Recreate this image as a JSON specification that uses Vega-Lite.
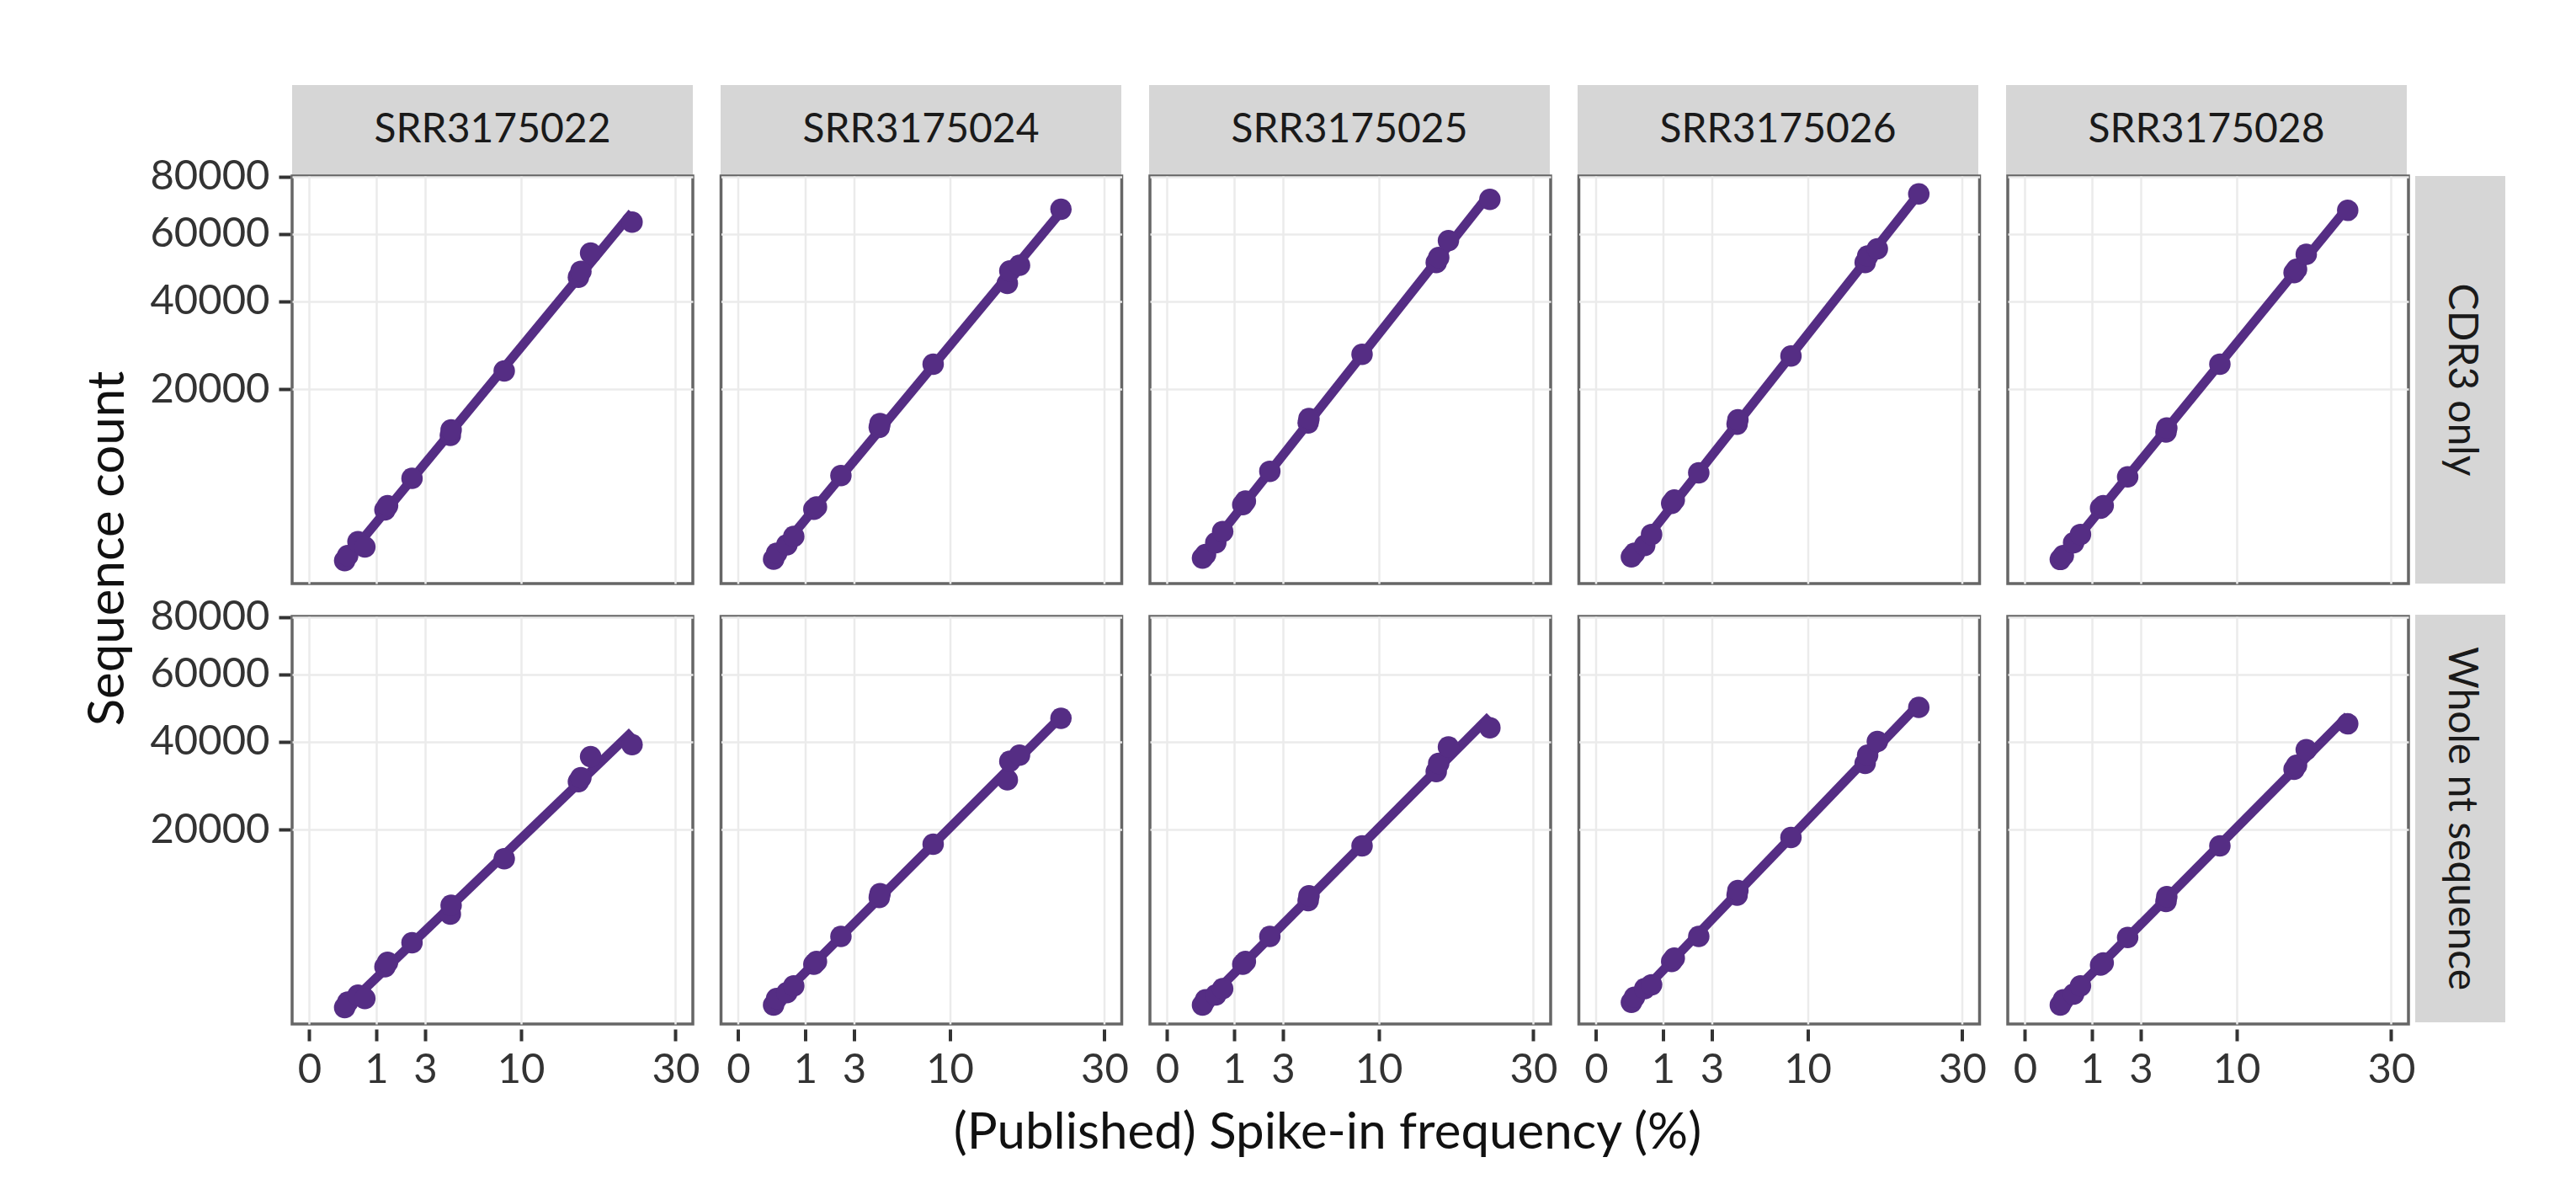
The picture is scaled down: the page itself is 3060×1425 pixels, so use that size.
{
  "$schema": "https://vega.github.io/schema/vega-lite/v6.json",
  "background": "white",
  "padding": {"left": 98, "top": 101, "right": 10, "bottom": 10},
  "title": {"text": "Sequence count", "orient": "left", "anchor": "middle", "frame": "bounds", "offset": 18, "dx": 87,
            "font": "Lato", "fontSize": 60, "fontWeight": "normal", "color": "#111111"},
  "config": {
    "font": "Lato",
    "view": {"stroke": "#666666", "strokeWidth": 3.5},
    "axis": {
      "gridColor": "#ebebeb", "gridWidth": 2.5, "domain": false,
      "tickColor": "#333333", "tickWidth": 4, "tickSize": 14,
      "labelFont": "Lato", "labelFontSize": 49, "labelColor": "#333333", "labelPadding": 11, "labelFlush": false
    },
    "axisX": {"labelPadding": 10}
  },
  "datasets": {
    "cols": [{"sample": "SRR3175022"}, {"sample": "SRR3175024"}, {"sample": "SRR3175025"}, {"sample": "SRR3175026"}, {"sample": "SRR3175028"}],
    "rows": [{"type": "CDR3 only"}, {"type": "Whole nt sequence"}],
    "pts": [
      {"sample":"SRR3175022","type":"CDR3 only","kind":"obs","freq":0.28,"count":754},
      {"sample":"SRR3175022","type":"CDR3 only","kind":"obs","freq":0.33,"count":953},
      {"sample":"SRR3175022","type":"CDR3 only","kind":"obs","freq":0.53,"count":1605},
      {"sample":"SRR3175022","type":"CDR3 only","kind":"obs","freq":0.69,"count":1338},
      {"sample":"SRR3175022","type":"CDR3 only","kind":"obs","freq":1.28,"count":3756},
      {"sample":"SRR3175022","type":"CDR3 only","kind":"obs","freq":1.37,"count":4100},
      {"sample":"SRR3175022","type":"CDR3 only","kind":"obs","freq":2.36,"count":6773},
      {"sample":"SRR3175022","type":"CDR3 only","kind":"obs","freq":4.45,"count":12300},
      {"sample":"SRR3175022","type":"CDR3 only","kind":"obs","freq":4.5,"count":13100},
      {"sample":"SRR3175022","type":"CDR3 only","kind":"obs","freq":8.5,"count":23614},
      {"sample":"SRR3175022","type":"CDR3 only","kind":"obs","freq":16.2,"count":46690},
      {"sample":"SRR3175022","type":"CDR3 only","kind":"obs","freq":16.5,"count":48400},
      {"sample":"SRR3175022","type":"CDR3 only","kind":"obs","freq":17.7,"count":53870},
      {"sample":"SRR3175022","type":"CDR3 only","kind":"obs","freq":23.3,"count":63837},
      {"sample":"SRR3175022","type":"Whole nt sequence","kind":"obs","freq":0.28,"count":540},
      {"sample":"SRR3175022","type":"Whole nt sequence","kind":"obs","freq":0.33,"count":720},
      {"sample":"SRR3175022","type":"Whole nt sequence","kind":"obs","freq":0.53,"count":987},
      {"sample":"SRR3175022","type":"Whole nt sequence","kind":"obs","freq":0.69,"count":850},
      {"sample":"SRR3175022","type":"Whole nt sequence","kind":"obs","freq":1.28,"count":2536},
      {"sample":"SRR3175022","type":"Whole nt sequence","kind":"obs","freq":1.37,"count":2842},
      {"sample":"SRR3175022","type":"Whole nt sequence","kind":"obs","freq":2.36,"count":4402},
      {"sample":"SRR3175022","type":"Whole nt sequence","kind":"obs","freq":4.45,"count":7285},
      {"sample":"SRR3175022","type":"Whole nt sequence","kind":"obs","freq":4.5,"count":8333},
      {"sample":"SRR3175022","type":"Whole nt sequence","kind":"obs","freq":8.5,"count":14945},
      {"sample":"SRR3175022","type":"Whole nt sequence","kind":"obs","freq":16.2,"count":30100},
      {"sample":"SRR3175022","type":"Whole nt sequence","kind":"obs","freq":16.5,"count":31000},
      {"sample":"SRR3175022","type":"Whole nt sequence","kind":"obs","freq":17.7,"count":36140},
      {"sample":"SRR3175022","type":"Whole nt sequence","kind":"obs","freq":23.3,"count":39220},
      {"sample":"SRR3175024","type":"CDR3 only","kind":"obs","freq":0.28,"count":812},
      {"sample":"SRR3175024","type":"CDR3 only","kind":"obs","freq":0.33,"count":1050},
      {"sample":"SRR3175024","type":"CDR3 only","kind":"obs","freq":0.53,"count":1450},
      {"sample":"SRR3175024","type":"CDR3 only","kind":"obs","freq":0.69,"count":1900},
      {"sample":"SRR3175024","type":"CDR3 only","kind":"obs","freq":1.28,"count":3800},
      {"sample":"SRR3175024","type":"CDR3 only","kind":"obs","freq":1.37,"count":4000},
      {"sample":"SRR3175024","type":"CDR3 only","kind":"obs","freq":2.36,"count":7061},
      {"sample":"SRR3175024","type":"CDR3 only","kind":"obs","freq":4.45,"count":13500},
      {"sample":"SRR3175024","type":"CDR3 only","kind":"obs","freq":4.5,"count":14100},
      {"sample":"SRR3175024","type":"CDR3 only","kind":"obs","freq":8.5,"count":25030},
      {"sample":"SRR3175024","type":"CDR3 only","kind":"obs","freq":16.2,"count":44900},
      {"sample":"SRR3175024","type":"CDR3 only","kind":"obs","freq":16.5,"count":48500},
      {"sample":"SRR3175024","type":"CDR3 only","kind":"obs","freq":17.7,"count":50200},
      {"sample":"SRR3175024","type":"CDR3 only","kind":"obs","freq":23.3,"count":68240},
      {"sample":"SRR3175024","type":"Whole nt sequence","kind":"obs","freq":0.28,"count":617},
      {"sample":"SRR3175024","type":"Whole nt sequence","kind":"obs","freq":0.33,"count":850},
      {"sample":"SRR3175024","type":"Whole nt sequence","kind":"obs","freq":0.53,"count":1100},
      {"sample":"SRR3175024","type":"Whole nt sequence","kind":"obs","freq":0.69,"count":1416},
      {"sample":"SRR3175024","type":"Whole nt sequence","kind":"obs","freq":1.28,"count":2700},
      {"sample":"SRR3175024","type":"Whole nt sequence","kind":"obs","freq":1.37,"count":2900},
      {"sample":"SRR3175024","type":"Whole nt sequence","kind":"obs","freq":2.36,"count":4972},
      {"sample":"SRR3175024","type":"Whole nt sequence","kind":"obs","freq":4.45,"count":9300},
      {"sample":"SRR3175024","type":"Whole nt sequence","kind":"obs","freq":4.5,"count":9800},
      {"sample":"SRR3175024","type":"Whole nt sequence","kind":"obs","freq":8.5,"count":17395},
      {"sample":"SRR3175024","type":"Whole nt sequence","kind":"obs","freq":16.2,"count":30500},
      {"sample":"SRR3175024","type":"Whole nt sequence","kind":"obs","freq":16.5,"count":35000},
      {"sample":"SRR3175024","type":"Whole nt sequence","kind":"obs","freq":17.7,"count":36500},
      {"sample":"SRR3175024","type":"Whole nt sequence","kind":"obs","freq":23.3,"count":46470},
      {"sample":"SRR3175025","type":"CDR3 only","kind":"obs","freq":0.28,"count":850},
      {"sample":"SRR3175025","type":"CDR3 only","kind":"obs","freq":0.33,"count":1000},
      {"sample":"SRR3175025","type":"CDR3 only","kind":"obs","freq":0.53,"count":1557},
      {"sample":"SRR3175025","type":"CDR3 only","kind":"obs","freq":0.69,"count":2200},
      {"sample":"SRR3175025","type":"CDR3 only","kind":"obs","freq":1.28,"count":4200},
      {"sample":"SRR3175025","type":"CDR3 only","kind":"obs","freq":1.37,"count":4500},
      {"sample":"SRR3175025","type":"CDR3 only","kind":"obs","freq":2.36,"count":7562},
      {"sample":"SRR3175025","type":"CDR3 only","kind":"obs","freq":4.45,"count":14200},
      {"sample":"SRR3175025","type":"CDR3 only","kind":"obs","freq":4.5,"count":14900},
      {"sample":"SRR3175025","type":"CDR3 only","kind":"obs","freq":8.5,"count":27150},
      {"sample":"SRR3175025","type":"CDR3 only","kind":"obs","freq":16.2,"count":51000},
      {"sample":"SRR3175025","type":"CDR3 only","kind":"obs","freq":16.5,"count":52500},
      {"sample":"SRR3175025","type":"CDR3 only","kind":"obs","freq":17.7,"count":57800},
      {"sample":"SRR3175025","type":"CDR3 only","kind":"obs","freq":23.3,"count":71720},
      {"sample":"SRR3175025","type":"Whole nt sequence","kind":"obs","freq":0.28,"count":617},
      {"sample":"SRR3175025","type":"Whole nt sequence","kind":"obs","freq":0.33,"count":800},
      {"sample":"SRR3175025","type":"Whole nt sequence","kind":"obs","freq":0.53,"count":1000},
      {"sample":"SRR3175025","type":"Whole nt sequence","kind":"obs","freq":0.69,"count":1282},
      {"sample":"SRR3175025","type":"Whole nt sequence","kind":"obs","freq":1.28,"count":2700},
      {"sample":"SRR3175025","type":"Whole nt sequence","kind":"obs","freq":1.37,"count":2900},
      {"sample":"SRR3175025","type":"Whole nt sequence","kind":"obs","freq":2.36,"count":4972},
      {"sample":"SRR3175025","type":"Whole nt sequence","kind":"obs","freq":4.45,"count":8900},
      {"sample":"SRR3175025","type":"Whole nt sequence","kind":"obs","freq":4.5,"count":9500},
      {"sample":"SRR3175025","type":"Whole nt sequence","kind":"obs","freq":8.5,"count":17105},
      {"sample":"SRR3175025","type":"Whole nt sequence","kind":"obs","freq":16.2,"count":32440},
      {"sample":"SRR3175025","type":"Whole nt sequence","kind":"obs","freq":16.5,"count":34450},
      {"sample":"SRR3175025","type":"Whole nt sequence","kind":"obs","freq":17.7,"count":38640},
      {"sample":"SRR3175025","type":"Whole nt sequence","kind":"obs","freq":23.3,"count":43830},
      {"sample":"SRR3175026","type":"CDR3 only","kind":"obs","freq":0.28,"count":900},
      {"sample":"SRR3175026","type":"CDR3 only","kind":"obs","freq":0.33,"count":1050},
      {"sample":"SRR3175026","type":"CDR3 only","kind":"obs","freq":0.53,"count":1416},
      {"sample":"SRR3175026","type":"CDR3 only","kind":"obs","freq":0.69,"count":2020},
      {"sample":"SRR3175026","type":"CDR3 only","kind":"obs","freq":1.28,"count":4300},
      {"sample":"SRR3175026","type":"CDR3 only","kind":"obs","freq":1.37,"count":4600},
      {"sample":"SRR3175026","type":"CDR3 only","kind":"obs","freq":2.36,"count":7372},
      {"sample":"SRR3175026","type":"CDR3 only","kind":"obs","freq":4.45,"count":14000},
      {"sample":"SRR3175026","type":"CDR3 only","kind":"obs","freq":4.5,"count":14700},
      {"sample":"SRR3175026","type":"CDR3 only","kind":"obs","freq":8.5,"count":26790},
      {"sample":"SRR3175026","type":"CDR3 only","kind":"obs","freq":16.2,"count":50980},
      {"sample":"SRR3175026","type":"CDR3 only","kind":"obs","freq":16.5,"count":52990},
      {"sample":"SRR3175026","type":"CDR3 only","kind":"obs","freq":17.7,"count":55190},
      {"sample":"SRR3175026","type":"CDR3 only","kind":"obs","freq":23.3,"count":73690},
      {"sample":"SRR3175026","type":"Whole nt sequence","kind":"obs","freq":0.28,"count":711},
      {"sample":"SRR3175026","type":"Whole nt sequence","kind":"obs","freq":0.33,"count":900},
      {"sample":"SRR3175026","type":"Whole nt sequence","kind":"obs","freq":0.53,"count":1282},
      {"sample":"SRR3175026","type":"Whole nt sequence","kind":"obs","freq":0.69,"count":1472},
      {"sample":"SRR3175026","type":"Whole nt sequence","kind":"obs","freq":1.28,"count":2900},
      {"sample":"SRR3175026","type":"Whole nt sequence","kind":"obs","freq":1.37,"count":3150},
      {"sample":"SRR3175026","type":"Whole nt sequence","kind":"obs","freq":2.36,"count":4972},
      {"sample":"SRR3175026","type":"Whole nt sequence","kind":"obs","freq":4.45,"count":9600},
      {"sample":"SRR3175026","type":"Whole nt sequence","kind":"obs","freq":4.5,"count":10200},
      {"sample":"SRR3175026","type":"Whole nt sequence","kind":"obs","freq":8.5,"count":18572},
      {"sample":"SRR3175026","type":"Whole nt sequence","kind":"obs","freq":16.2,"count":34450},
      {"sample":"SRR3175026","type":"Whole nt sequence","kind":"obs","freq":16.5,"count":36510},
      {"sample":"SRR3175026","type":"Whole nt sequence","kind":"obs","freq":17.7,"count":40090},
      {"sample":"SRR3175026","type":"Whole nt sequence","kind":"obs","freq":23.3,"count":49670},
      {"sample":"SRR3175028","type":"CDR3 only","kind":"obs","freq":0.28,"count":800},
      {"sample":"SRR3175028","type":"CDR3 only","kind":"obs","freq":0.33,"count":950},
      {"sample":"SRR3175028","type":"CDR3 only","kind":"obs","freq":0.53,"count":1557},
      {"sample":"SRR3175028","type":"CDR3 only","kind":"obs","freq":0.69,"count":2020},
      {"sample":"SRR3175028","type":"CDR3 only","kind":"obs","freq":1.28,"count":3900},
      {"sample":"SRR3175028","type":"CDR3 only","kind":"obs","freq":1.37,"count":4100},
      {"sample":"SRR3175028","type":"CDR3 only","kind":"obs","freq":2.36,"count":6939},
      {"sample":"SRR3175028","type":"CDR3 only","kind":"obs","freq":4.45,"count":12800},
      {"sample":"SRR3175028","type":"CDR3 only","kind":"obs","freq":4.5,"count":13400},
      {"sample":"SRR3175028","type":"CDR3 only","kind":"obs","freq":8.5,"count":25030},
      {"sample":"SRR3175028","type":"CDR3 only","kind":"obs","freq":16.2,"count":48000},
      {"sample":"SRR3175028","type":"CDR3 only","kind":"obs","freq":16.5,"count":49000},
      {"sample":"SRR3175028","type":"CDR3 only","kind":"obs","freq":17.7,"count":53490},
      {"sample":"SRR3175028","type":"CDR3 only","kind":"obs","freq":23.3,"count":67860},
      {"sample":"SRR3175028","type":"Whole nt sequence","kind":"obs","freq":0.28,"count":617},
      {"sample":"SRR3175028","type":"Whole nt sequence","kind":"obs","freq":0.33,"count":800},
      {"sample":"SRR3175028","type":"Whole nt sequence","kind":"obs","freq":0.53,"count":1034},
      {"sample":"SRR3175028","type":"Whole nt sequence","kind":"obs","freq":0.69,"count":1416},
      {"sample":"SRR3175028","type":"Whole nt sequence","kind":"obs","freq":1.28,"count":2650},
      {"sample":"SRR3175028","type":"Whole nt sequence","kind":"obs","freq":1.37,"count":2800},
      {"sample":"SRR3175028","type":"Whole nt sequence","kind":"obs","freq":2.36,"count":4870},
      {"sample":"SRR3175028","type":"Whole nt sequence","kind":"obs","freq":4.45,"count":8800},
      {"sample":"SRR3175028","type":"Whole nt sequence","kind":"obs","freq":4.5,"count":9400},
      {"sample":"SRR3175028","type":"Whole nt sequence","kind":"obs","freq":8.5,"count":17105},
      {"sample":"SRR3175028","type":"Whole nt sequence","kind":"obs","freq":16.2,"count":33000},
      {"sample":"SRR3175028","type":"Whole nt sequence","kind":"obs","freq":16.5,"count":34000},
      {"sample":"SRR3175028","type":"Whole nt sequence","kind":"obs","freq":17.7,"count":37920},
      {"sample":"SRR3175028","type":"Whole nt sequence","kind":"obs","freq":23.3,"count":44900},
      {"sample":"SRR3175022","type":"CDR3 only","kind":"fit","freq":0.28,"count":751},
      {"sample":"SRR3175022","type":"CDR3 only","kind":"fit","freq":23.3,"count":67076},
      {"sample":"SRR3175022","type":"Whole nt sequence","kind":"fit","freq":0.28,"count":514},
      {"sample":"SRR3175022","type":"Whole nt sequence","kind":"fit","freq":23.3,"count":42696},
      {"sample":"SRR3175024","type":"CDR3 only","kind":"fit","freq":0.28,"count":863},
      {"sample":"SRR3175024","type":"CDR3 only","kind":"fit","freq":23.3,"count":67356},
      {"sample":"SRR3175024","type":"Whole nt sequence","kind":"fit","freq":0.28,"count":655},
      {"sample":"SRR3175024","type":"Whole nt sequence","kind":"fit","freq":23.3,"count":46950},
      {"sample":"SRR3175025","type":"CDR3 only","kind":"fit","freq":0.28,"count":909},
      {"sample":"SRR3175025","type":"CDR3 only","kind":"fit","freq":23.3,"count":73843},
      {"sample":"SRR3175025","type":"Whole nt sequence","kind":"fit","freq":0.28,"count":614},
      {"sample":"SRR3175025","type":"Whole nt sequence","kind":"fit","freq":23.3,"count":47063},
      {"sample":"SRR3175026","type":"CDR3 only","kind":"fit","freq":0.28,"count":881},
      {"sample":"SRR3175026","type":"CDR3 only","kind":"fit","freq":23.3,"count":73707},
      {"sample":"SRR3175026","type":"Whole nt sequence","kind":"fit","freq":0.28,"count":683},
      {"sample":"SRR3175026","type":"Whole nt sequence","kind":"fit","freq":23.3,"count":50589},
      {"sample":"SRR3175028","type":"CDR3 only","kind":"fit","freq":0.28,"count":823},
      {"sample":"SRR3175028","type":"CDR3 only","kind":"fit","freq":23.3,"count":68927},
      {"sample":"SRR3175028","type":"Whole nt sequence","kind":"fit","freq":0.28,"count":607},
      {"sample":"SRR3175028","type":"Whole nt sequence","kind":"fit","freq":23.3,"count":47158}
    ]
  },
  "spacing": -25,
  "vconcat": [
    {
      "data": {"name": "cols"},
      "facet": {"column": {"field": "sample", "type": "nominal", "title": null, "header": {"labels": false}}},
      "spacing": 33,
      "spec": {
        "width": 476, "height": 108,
        "view": {"fill": "#d6d6d6", "stroke": null},
        "mark": {"type": "text", "fontSize": 48, "font": "Lato", "color": "#1a1a1a"},
        "encoding": {"text": {"field": "sample", "type": "nominal"}}
      }
    },
    {
      "spacing": -51,
      "title": {"text": "(Published) Spike-in frequency (%)", "orient": "bottom", "anchor": "middle", "frame": "bounds", "offset": 22,
                "font": "Lato", "fontSize": 60, "fontWeight": "normal", "color": "#111111"},
      "hconcat": [
        {
          "data": {"name": "pts"},
          "facet": {
            "row": {"field": "type", "type": "nominal", "title": null, "header": {"labels": false}},
            "column": {"field": "sample", "type": "nominal", "title": null, "header": {"labels": false}}
          },
          "spacing": {"row": 31, "column": 29.5},
          "spec": {
            "width": 476, "height": 484,
            "encoding": {
              "x": {"field": "freq", "type": "quantitative",
                    "scale": {"type": "sqrt", "domain": [-0.066, 32.9], "nice": false, "zero": false},
                    "axis": {"values": [0, 1, 3, 10, 30], "title": null}},
              "y": {"field": "count", "type": "quantitative",
                    "scale": {"type": "sqrt", "domain": [150, 80300], "nice": false, "zero": false},
                    "axis": {"values": [20000, 40000, 60000, 80000], "format": "d", "title": null}}
            },
            "layer": [
              {"transform": [{"filter": "datum.kind === 'fit'"}],
               "mark": {"type": "line", "color": "#552d84", "strokeWidth": 11, "strokeCap": "butt"}},
              {"transform": [{"filter": "datum.kind === 'obs'"}],
               "mark": {"type": "circle", "color": "#552d84", "opacity": 1, "size": 650}}
            ]
          }
        },
        {
          "data": {"name": "rows"},
          "facet": {"row": {"field": "type", "type": "nominal", "title": null, "header": {"labels": false}}},
          "spacing": 37,
          "spec": {
            "width": 107, "height": 484,
            "view": {"fill": "#d6d6d6", "stroke": null},
            "mark": {"type": "text", "angle": 90, "fontSize": 48, "font": "Lato", "color": "#1a1a1a"},
            "encoding": {"text": {"field": "type", "type": "nominal"}}
          }
        }
      ]
    }
  ]
}
